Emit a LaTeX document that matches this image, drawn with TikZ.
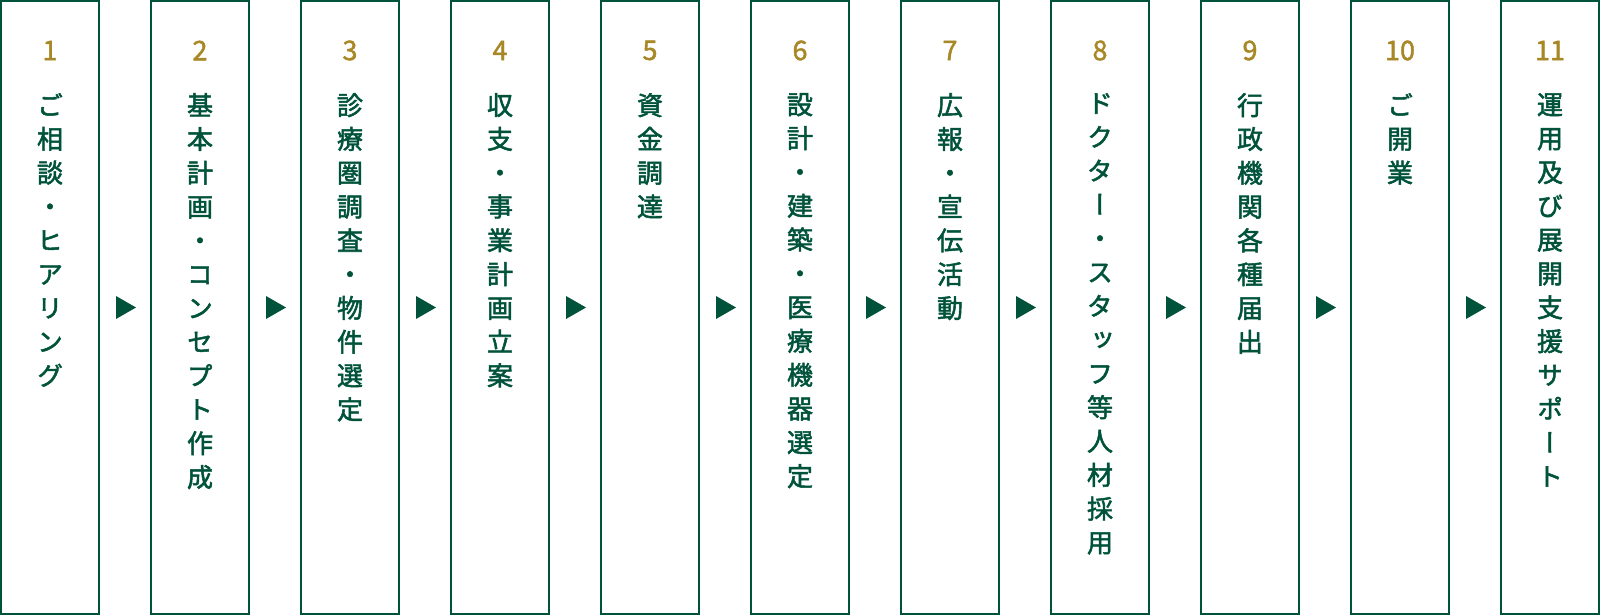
\documentclass[tikz,border=0pt]{standalone}
\usepackage{fontspec}
\newfontfamily\jp[RawFeature={+vert},FakeBold=2]{Noto Sans CJK JP}
\newfontfamily\jpnum[FakeBold=1.6]{Noto Sans CJK JP}
\definecolor{flowgreen}{RGB}{0,83,58}
\definecolor{flowgold}{RGB}{168,136,38}
\tikzset{
  stepbox/.style={draw=flowgreen, line width=2.4pt},
  stepnum/.style={text=flowgold, font={\jpnum\fontsize{27}{30}\selectfont}, inner sep=0pt, anchor=center},
  steptext/.style={text=flowgreen, font={\jp\fontsize{26}{33.8}\selectfont}, inner sep=0pt, anchor=north, align=center},
  nexttri/.style={fill=flowgreen, draw=none},
}
\begin{document}
\begin{tikzpicture}[x=1pt,y=-1pt]
\useasboundingbox (0,0) rectangle (1600,615);
\foreach \i/\txt in {
 1/{ご\\相\\談\\・\\ヒ\\ア\\リ\\ン\\グ},
 2/{基\\本\\計\\画\\・\\コ\\ン\\セ\\プ\\ト\\作\\成},
 3/{診\\療\\圏\\調\\査\\・\\物\\件\\選\\定},
 4/{収\\支\\・\\事\\業\\計\\画\\立\\案},
 5/{資\\金\\調\\達},
 6/{設\\計\\・\\建\\築\\・\\医\\療\\機\\器\\選\\定},
 7/{広\\報\\・\\宣\\伝\\活\\動},
 8/{ド\\ク\\タ\\ー\\・\\ス\\タ\\ッ\\フ\\等\\人\\材\\採\\用},
 9/{行\\政\\機\\関\\各\\種\\届\\出},
 10/{ご\\開\\業},
 11/{運\\用\\及\\び\\展\\開\\支\\援\\サ\\ポ\\ー\\ト}} {
  \pgfmathsetmacro{\xl}{150*(\i-1)}
  \draw[stepbox] (\xl+1.2,1.2) rectangle (\xl+98.8,613.8);
  \node[stepnum] (num\i) at (\xl+50,50.5) {\i};
  \node[steptext] (txt\i) at (\xl+50,93) {\txt};
}
\foreach \k in {1,...,10} {
  \pgfmathsetmacro{\xg}{150*(\k-1)}
  \coordinate (tri\k) at (\xg+116,296);
  \fill[nexttri] (tri\k) -- ++(0,23) -- ++(20,-11.5) -- cycle;
}
\end{tikzpicture}
\end{document}
